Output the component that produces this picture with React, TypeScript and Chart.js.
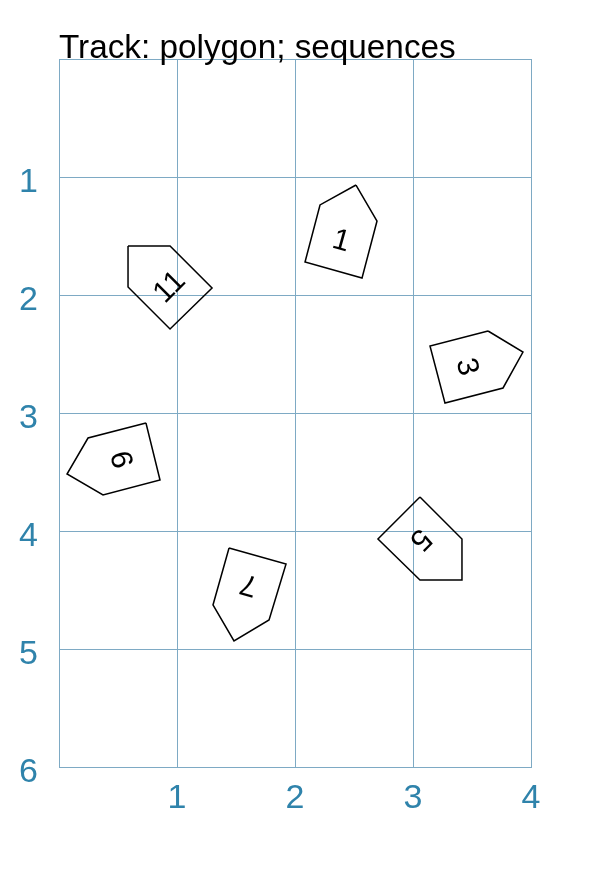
import React, { useEffect, useRef } from "react";
import { Chart, registerables } from "chart.js";

Chart.register(...registerables);

const TITLE = "Track: polygon; sequences";
const X_TICKS = [0, 1, 2, 3, 4];
const Y_TICKS = [0, 1, 2, 3, 4, 5, 6];

const SEQ_LABELS = ["1", "3", "5", "7", "9", "11"];
// label centre (data units) and rotation (degrees, clockwise on screen)
const LABEL_X = [2.39, 3.453, 3.059, 1.61, 0.551, 0.941];
const LABEL_Y = [1.547, 2.61, 4.068, 4.449, 3.39, 1.936];
const LABEL_ANGLE = [15.5, 75.5, 135, 195.5, 255.5, 315];

// polygon vertices (data units)
const POLY_1 = [[2.517, 1.068], [2.695, 1.373], [2.568, 1.856], [2.085, 1.72], [2.212, 1.237]];
const POLY_3 = [[3.636, 2.305], [3.932, 2.483], [3.763, 2.788], [3.271, 2.915], [3.144, 2.432]];
const POLY_5 = [[3.059, 3.712], [3.415, 4.068], [3.415, 4.415], [3.059, 4.415], [2.703, 4.068]];
const POLY_7 = [[1.441, 4.144], [1.924, 4.28], [1.78, 4.754], [1.483, 4.932], [1.305, 4.627]];
const POLY_9 = [[0.737, 3.085], [0.856, 3.568], [0.373, 3.695], [0.068, 3.517], [0.246, 3.212]];
const POLY_11 = [[0.585, 1.585], [0.941, 1.585], [1.297, 1.941], [0.941, 2.288], [0.585, 1.932]];
const POLYGONS = [POLY_1, POLY_3, POLY_5, POLY_7, POLY_9, POLY_11];

const FONT = "'Liberation Sans', Arial, Helvetica, sans-serif";
const GRID = "#7eaac4";
const TICK = "#2f83ab";

export default function App() {
  const ref = useRef<HTMLCanvasElement | null>(null);

  useEffect(() => {
    if (!ref.current) return;
    const datasets = POLYGONS.map((poly, i) => ({
      label: SEQ_LABELS[i],
      data: [...poly, poly[0]].map(([x, y]) => ({ x, y })),
      showLine: true,
      fill: false,
      borderColor: "#000",
      borderWidth: 1.5,
      pointRadius: 0,
      pointHoverRadius: 0,
      tension: 0,
    }));

    const labelPlugin = {
      id: "seqLabels",
      afterDatasetsDraw(chart: any) {
        const { ctx, scales } = chart;
        ctx.save();
        ctx.fillStyle = "#000";
        ctx.font = `30px ${FONT}`;
        ctx.textAlign = "center";
        ctx.textBaseline = "middle";
        SEQ_LABELS.forEach((t, i) => {
          const px = scales.x.getPixelForValue(LABEL_X[i]);
          const py = scales.y.getPixelForValue(LABEL_Y[i]);
          ctx.save();
          ctx.translate(px, py);
          ctx.rotate((LABEL_ANGLE[i] * Math.PI) / 180);
          ctx.fillText(t, 0, 0);
          ctx.restore();
        });
        ctx.restore();
      },
    };

    const titlePlugin = {
      id: "leftTitle",
      afterDraw(chart: any) {
        const { ctx, chartArea } = chart;
        ctx.save();
        ctx.fillStyle = "#000";
        ctx.font = `33.3px ${FONT}`;
        ctx.textAlign = "left";
        ctx.textBaseline = "alphabetic";
        ctx.fillText(TITLE, chartArea.left, chartArea.top - 1);
        ctx.restore();
      },
    };

    const chart = new Chart(ref.current, {
      type: "scatter",
      data: { datasets },
      options: {
        animation: false,
        responsive: false,
        maintainAspectRatio: false,
        events: [],
        layout: { padding: { top: 59, right: 82, left: 0, bottom: 0 } },
        plugins: {
          legend: { display: false },
          tooltip: { enabled: false },
          title: { display: false },
        },
        scales: {
          x: {
            type: "linear",
            min: X_TICKS[0],
            max: X_TICKS[X_TICKS.length - 1],
            afterBuildTicks: (s: any) => {
              s.ticks = X_TICKS.map((v) => ({ value: v }));
            },
            afterFit: (s: any) => {
              s.height = 108;
            },
            grid: { color: GRID, lineWidth: 1, drawTicks: false },
            border: { color: GRID, width: 1 },
            ticks: {
              padding: 11,
              color: TICK,
              font: { size: 34, family: FONT },
              callback: (v: any) => (v === 0 ? "" : String(v)),
              maxRotation: 0,
            },
          },
          y: {
            type: "linear",
            reverse: true,
            min: Y_TICKS[0],
            max: Y_TICKS[Y_TICKS.length - 1],
            afterBuildTicks: (s: any) => {
              s.ticks = Y_TICKS.map((v) => ({ value: v }));
            },
            afterFit: (s: any) => {
              s.width = 59;
            },
            grid: { color: GRID, lineWidth: 1, drawTicks: false },
            border: { color: GRID, width: 1 },
            ticks: {
              padding: 21,
              labelOffset: 6,
              color: TICK,
              font: { size: 34, family: FONT },
              callback: (v: any) => (v === 0 ? "" : String(v)),
            },
          },
        },
      },
      plugins: [labelPlugin, titlePlugin],
    } as any);
    return () => chart.destroy();
  }, []);

  return (
    <div style={{ position: "fixed", left: 0, top: 0, width: 613, height: 875, background: "#fff" }}>
      <canvas ref={ref} width={613} height={875} style={{ width: 613, height: 875, display: "block" }} />
    </div>
  );
}
